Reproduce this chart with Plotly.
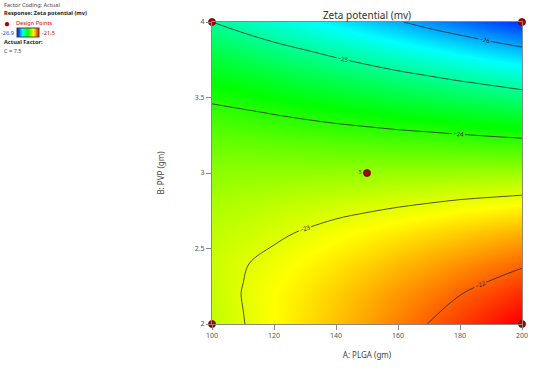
import plotly.graph_objects as go

# Factor levels (actual units)
plga = [100, 110, 120, 130, 140, 150, 160, 170, 180, 190, 200]
pvp = [2.0, 2.2, 2.4, 2.6, 2.8, 3.0, 3.2, 3.4, 3.6, 3.8, 4.0]

# Zeta potential (mV) surface, rows follow pvp, columns follow plga
zeta = [
    [-23.19, -23.01, -22.85, -22.68, -22.52, -22.35, -22.17, -21.99, -21.81, -21.63, -21.45],
    [-23.15, -22.99, -22.85, -22.73, -22.59, -22.45, -22.30, -22.16, -22.01, -21.87, -21.72],
    [-23.12, -23.02, -22.92, -22.82, -22.72, -22.61, -22.49, -22.38, -22.27, -22.16, -22.05],
    [-23.19, -23.12, -23.05, -22.97, -22.89, -22.82, -22.74, -22.66, -22.59, -22.51, -22.43],
    [-23.30, -23.26, -23.21, -23.17, -23.12, -23.08, -23.04, -23.00, -22.95, -22.91, -22.87],
    [-23.45, -23.44, -23.43, -23.42, -23.41, -23.40, -23.39, -23.38, -23.37, -23.37, -23.36],
    [-23.65, -23.67, -23.70, -23.72, -23.75, -23.77, -23.80, -23.82, -23.85, -23.88, -23.91],
    [-23.91, -23.96, -24.02, -24.08, -24.14, -24.20, -24.26, -24.32, -24.38, -24.44, -24.50],
    [-24.22, -24.31, -24.40, -24.50, -24.59, -24.68, -24.78, -24.87, -24.97, -25.06, -25.16],
    [-24.58, -24.71, -24.84, -24.96, -25.09, -25.22, -25.35, -25.48, -25.61, -25.74, -25.87],
    [-25.00, -25.16, -25.32, -25.48, -25.65, -25.81, -25.97, -26.14, -26.30, -26.47, -26.63],
]

# Design points
design_a = [100, 200, 100, 200, 150]
design_b = [2, 2, 4, 4, 3]
design_reps = ["", "", "", "", "5"]

z_low, z_high = -26.9, -21.5
x_ticks = [100, 120, 140, 160, 180, 200]
y_ticks = [2, 2.5, 3, 3.5, 4]

scale = [[0.0, "#0000ff"], [0.25, "#00ffff"], [0.5, "#00ff00"], [0.75, "#ffff00"], [1.0, "#ff0000"]]

FONT = "Noto Sans, Open Sans, sans-serif"
SMALL = 5.6

W, H = 549, 376


def px_x(px):
    return (px - 212) / 310


def px_y(py):
    return (324 - py) / 302


fig = go.Figure()

fig.add_trace(go.Contour(
    x=plga, y=pvp, z=zeta,
    colorscale=scale, zmin=z_low, zmax=z_high,
    contours=dict(start=-26, end=-22, size=1, coloring="heatmap",
                  showlabels=True, labelfont=dict(size=6, color="#222", family=FONT)),
    line=dict(color="#2a2a2a", width=0.8, smoothing=1.0),
    showscale=False,
    hoverinfo="skip", showlegend=False,
))

# colour key (continuous gradient) in the left legend block
fig.add_trace(go.Scatter(
    x=[None], y=[None], mode="markers", showlegend=False, hoverinfo="skip",
    marker=dict(color=[z_low], colorscale=scale, cmin=z_low, cmax=z_high, showscale=True,
                colorbar=dict(orientation="h", x=px_x(17), xanchor="left",
                              y=px_y(33), yanchor="middle",
                              thickness=9, thicknessmode="pixels", len=22, lenmode="pixels",
                              outlinewidth=1, outlinecolor="#444", ticks="",
                              showticklabels=False, xpad=0, ypad=0)),
))

fig.add_trace(go.Scatter(
    x=design_a, y=design_b, mode="markers+text", text=design_reps,
    textposition="middle left", textfont=dict(size=5, color="#333", family=FONT),
    marker=dict(size=7, color="#b00000", line=dict(color="#5a0000", width=0.8)),
    cliponaxis=False, name="Design Points", showlegend=False,
))

axis_common = dict(showgrid=False, zeroline=False, showline=True, linecolor="#888",
                   linewidth=1, mirror=True, ticks="outside", ticklen=5,
                   tickcolor="#888", tickfont=dict(size=7, color="#555", family=FONT))

fig.update_layout(
    width=W, height=H,
    margin=dict(l=212, r=27, t=22, b=52, autoexpand=False),
    paper_bgcolor="white", plot_bgcolor="white",
    font=dict(family=FONT, color="#333"),
    showlegend=False,
    title=dict(text="Zeta potential (mv)", x=367 / W, xanchor="center",
               y=1 - 15 / H, yanchor="middle", font=dict(size=10, color="#333", family=FONT)),
    xaxis=dict(range=[100, 200], tickvals=x_ticks,
               title=dict(text="A: PLGA (gm)", font=dict(size=8, color="#444", family=FONT), standoff=12),
               **axis_common),
    yaxis=dict(range=[2, 4], tickvals=y_ticks,
               title=dict(text="B: PVP (gm)", font=dict(size=8, color="#444", family=FONT), standoff=28),
               **axis_common),
)

notes = [
    ("Factor Coding: Actual", 2, 5, "#444"),
    ("<b>Response: Zeta potential (mv)</b>", 2, 13, "#222"),
    ("Design Points", 14, 23, "#e00000"),
    ("<b>Actual Factor:</b>", 2, 42, "#222"),
    ("C = 7.5", 2, 51, "#444"),
]
for text, px, py, col in notes:
    fig.add_annotation(text=text, xref="paper", yref="paper",
                       x=px_x(px), y=px_y(py), xanchor="left", yanchor="middle",
                       showarrow=False, font=dict(size=SMALL, color=col, family=FONT))

# legend symbol for the design points
fig.add_annotation(text="●", xref="paper", yref="paper",
                   x=px_x(7), y=px_y(23), xanchor="center", yanchor="middle",
                   showarrow=False, font=dict(size=10, color="#b00000", family=FONT))

fig.add_annotation(text=f"{z_low}", xref="paper", yref="paper",
                   x=px_x(16), y=px_y(33), xanchor="right", yanchor="middle",
                   showarrow=False, font=dict(size=SMALL, color="#2040ff", family=FONT))
fig.add_annotation(text=f"{z_high}", xref="paper", yref="paper",
                   x=px_x(40), y=px_y(33), xanchor="left", yanchor="middle",
                   showarrow=False, font=dict(size=SMALL, color="#e00000", family=FONT))

fig.write_html("out.html", config={"displayModeBar": False},
               post_script="document.body.style.margin='0';")
